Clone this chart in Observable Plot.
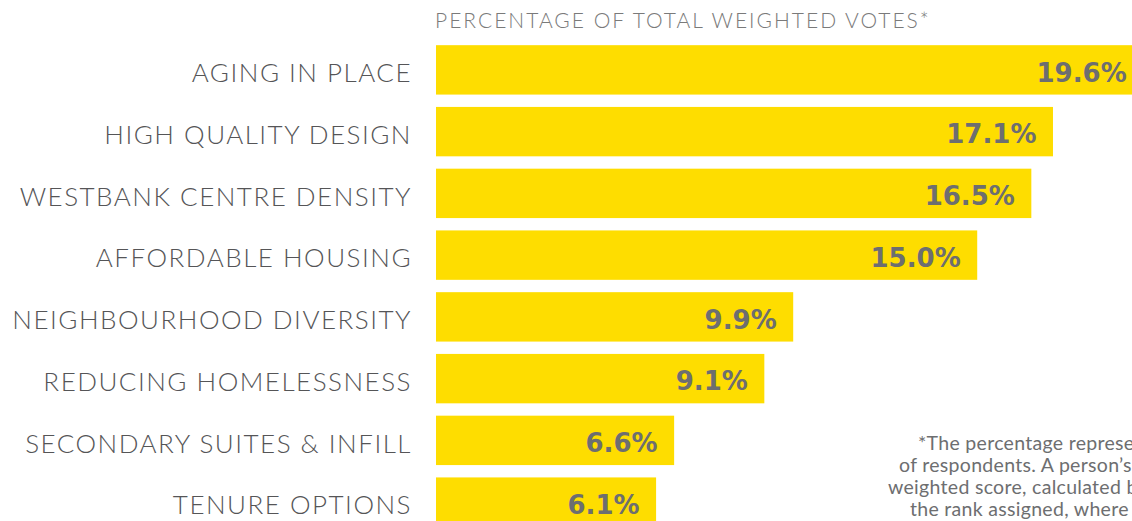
<!DOCTYPE html>
<html>
<head>
<meta charset="utf-8">
<script src="https://cdn.jsdelivr.net/npm/d3@7"></script>
<script src="https://cdn.jsdelivr.net/npm/@observablehq/plot@0.6"></script>
<style>
  html, body { margin: 0; padding: 0; background: #fff; width: 1132px; height: 521px; overflow: hidden; }
  #wrap { position: relative; width: 1132px; height: 521px; overflow: hidden; font-family: Lato, "Open Sans", sans-serif; }
  #title { height: 38.8px; box-sizing: border-box; padding-left: 435px; padding-top: 7px; font-size: 21px; color: #7a7a7a; font-weight: 300; letter-spacing: 2px; line-height: 26px; white-space: nowrap; }
  #note { position: absolute; top: 432px; left: 0; width: 1400px; font-size: 19.5px; color: #6d6e70; line-height: 22px; font-weight: 400; letter-spacing: 0.3px; }
  #note div { white-space: nowrap; position: relative; }
  svg { overflow: hidden; }
  svg g[aria-label="y-axis tick label"] text { letter-spacing: 1.5px; font-weight: 300; }
</style>
</head>
<body>
<div id="wrap">
  <div id="title">PERCENTAGE OF TOTAL WEIGHTED VOTES*</div>
  <div id="chart"></div>
  <div id="note"></div>
</div>
<script>
const categories = [
  "AGING IN PLACE",
  "HIGH QUALITY DESIGN",
  "WESTBANK CENTRE DENSITY",
  "AFFORDABLE HOUSING",
  "NEIGHBOURHOOD DIVERSITY",
  "REDUCING HOMELESSNESS",
  "SECONDARY SUITES & INFILL",
  "TENURE OPTIONS"
];
const values = [19.6, 17.1, 16.5, 15.0, 9.9, 9.1, 6.6, 6.1];
const valueLabels = ["19.6%", "17.1%", "16.5%", "15.0%", "9.9%", "9.1%", "6.6%", "6.1%"];
const noteLines = [
  "*The percentage represents the total weighted votes",
  "of respondents. A person’s top choice received the highest",
  "weighted score, calculated based on the ranking assigned,",
  "the rank assigned, where the top choice scored highest."
];
const noteOffsets = [918, 899, 888, 910];

const data = categories.map((c, i) => ({category: c, value: values[i], label: valueLabels[i]}));

const chart = Plot.plot({
  width: 1132,
  height: 494,
  marginLeft: 436,
  marginRight: 0,
  marginTop: 0,
  marginBottom: 0,
  style: {fontFamily: "Lato, 'Open Sans', sans-serif", color: "#555557", background: "transparent"},
  x: {domain: [0, 19.29], axis: null},
  y: {domain: categories, paddingInner: 0.2, paddingOuter: 0.1, round: false, label: null},
  marks: [
    Plot.barX(data, {x: "value", y: "category", fill: "#FEDD00"}),
    Plot.axisY({tickSize: 0, tickPadding: 24.5, fontSize: 26, dy: 3.5, fill: "#555557", label: null}),
    Plot.text(data, {x: "value", y: "category", text: "label", textAnchor: "end", dx: -17, dy: 3,
      fontSize: 26, fontWeight: 700, fill: "#6d6e70", fontFamily: "'DejaVu Sans', sans-serif"})
  ]
});
document.getElementById("chart").appendChild(chart);

const note = document.getElementById("note");
noteLines.forEach((t, i) => {
  const d = document.createElement("div");
  d.textContent = t;
  d.style.left = noteOffsets[i] + "px";
  note.appendChild(d);
});
</script>
</body>
</html>
